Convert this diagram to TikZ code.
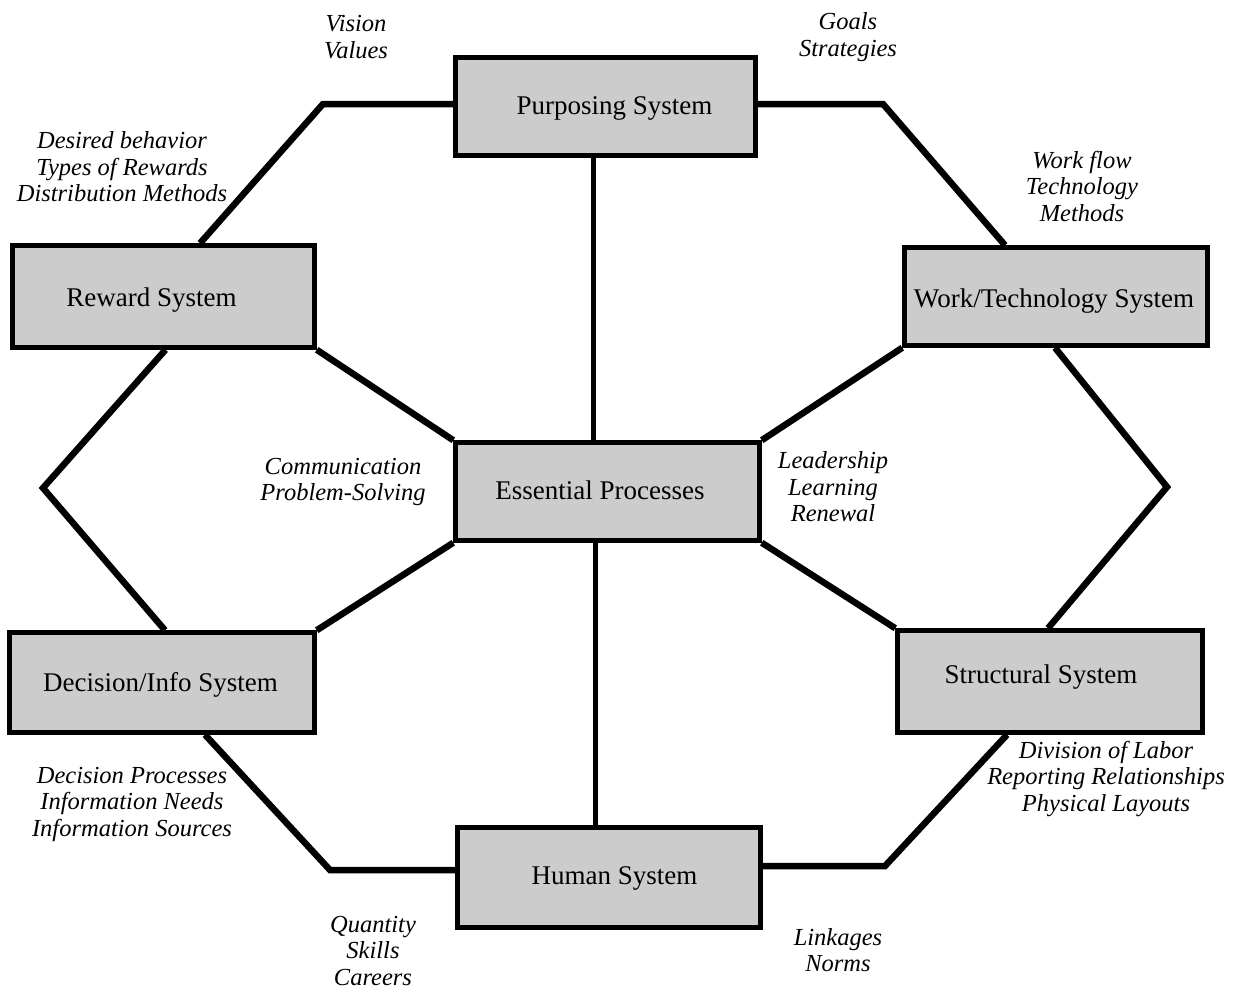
\documentclass[tikz,border=0pt]{standalone}
\usepackage{fontspec}
\setmainfont{Liberation Serif}
\usetikzlibrary{backgrounds,shadows}
\newcommand\offtext[3]{\raisebox{#2}[0pt][0pt]{\makebox[0pt]{\hspace*{#1}\hspace*{#1}#3}}}
\begin{document}
\begin{tikzpicture}[x=1pt,y=-1pt,
  sysbox/.style={draw=black,line width=4.5pt,fill=gray!40,inner sep=0pt,
    font=\fontsize{27}{28}\selectfont,
    drop shadow={shadow xshift=2pt,shadow yshift=-2pt,fill=black,opacity=1}},
  lbl/.style={align=center,inner sep=0pt,font=\fontsize{24.5}{26.5}\selectfont\itshape},
  outer/.style={line width=6.5pt,line join=miter,line cap=butt},
  inner/.style={line width=6.5pt},
  stem/.style={line width=5pt}]
\useasboundingbox (0,0) rectangle (1241,990);
% system boxes
\node[sysbox,minimum width=300pt,minimum height=98pt] (P) at (605.5,106.5) {\offtext{9pt}{-8.5pt}{Purposing System}};
\node[sysbox,minimum width=302pt,minimum height=102pt] (R) at (163.5,296.5) {\offtext{-12pt}{-9.5pt}{Reward System}};
\node[sysbox,minimum width=304pt,minimum height=98pt] (E) at (607.5,491.5) {\offtext{-7.5pt}{-7.5pt}{Essential Processes}};
\node[sysbox,minimum width=303pt,minimum height=98pt] (W) at (1056,296.5) {\offtext{-2pt}{-11pt}{Work/Technology System}};
\node[sysbox,minimum width=305pt,minimum height=100pt] (D) at (162,682.5) {\offtext{-1.5pt}{-8.5pt}{Decision/Info System}};
\node[sysbox,minimum width=305pt,minimum height=102pt] (S) at (1050,681.5) {\offtext{-9pt}{-2pt}{Structural System}};
\node[sysbox,minimum width=303pt,minimum height=100pt] (H) at (609,877.5) {\offtext{5.5pt}{-6.5pt}{Human System}};
% bend points
\coordinate (c1) at (323,104);
\coordinate (c2) at (883,104);
\coordinate (c3) at (43,488);
\coordinate (c4) at (1167,487);
\coordinate (c5) at (330,870);
\coordinate (c6) at (885,866);
\begin{scope}[on background layer]
\draw[outer] (P.west |- c1) -- (c1) -- ([xshift=36.5pt]R.north);
\draw[outer] (P.east |- c2) -- (c2) -- ([xshift=-51pt]W.north);
\draw[outer] ([xshift=2pt]R.south) -- (c3) -- ([xshift=3pt]D.north);
\draw[outer] ([xshift=-1pt]W.south) -- (c4) -- ([xshift=-2pt]S.north);
\draw[outer] ([xshift=43pt]D.south) -- (c5) -- (H.west |- c5);
\draw[outer] ([xshift=-43pt]S.south) -- (c6) -- (H.east |- c6);
\draw[stem] ([xshift=-12pt]P.south) -- ([xshift=-12pt]P.south |- E.north);
\draw[stem] ([xshift=-12pt]E.south) -- ([xshift=-12pt]E.south |- H.north);
\draw[inner] (R.south east) -- (E.north west);
\draw[inner] (E.south west) -- (D.north east);
\draw[inner] (E.north east) -- (W.south west);
\draw[inner] (E.south east) -- (S.north west);
\end{scope}
% labels
\node[lbl] (l1) at (356,37) {Vision\\Values};
\node[lbl] (l2) at (848,37) {Goals\\Strategies};
\node[lbl] (l3) at (122,167) {Desired behavior\\Types of Rewards\\Distribution Methods};
\node[lbl] (l4) at (1082,186) {Work flow\\Technology\\Methods};
\node[lbl] (l5) at (343,482) {Communication\\Problem-Solving};
\node[lbl] (l6) at (833,487) {Leadership\\Learning\\Renewal};
\node[lbl] (l7) at (132,804) {Decision Processes\\Information Needs\\Information Sources};
\node[lbl] (l8) at (1106,779) {Division of Labor\\Reporting Relationships\\Physical Layouts};
\node[lbl] (l9) at (373,951) {Quantity\\Skills\\Careers};
\node[lbl] (l10) at (838,950) {Linkages\\Norms};
\end{tikzpicture}
\end{document}
